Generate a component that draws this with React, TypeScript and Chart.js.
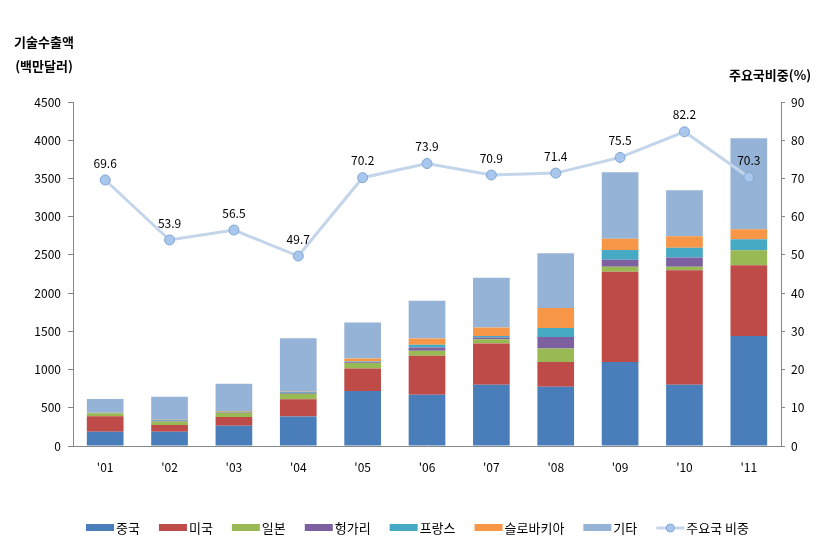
import React, { useEffect, useRef } from "react";
import { Chart, registerables } from "chart.js";

Chart.register(...registerables);

const years = ["'01", "'02", "'03", "'04", "'05", "'06", "'07", "'08", "'09", "'10", "'11"];
const china = [185, 185, 265, 385, 720, 670, 800, 775, 1100, 800, 1440];
const usa = [205, 90, 115, 225, 295, 510, 540, 325, 1180, 1500, 925];
const japan = [40, 45, 55, 75, 70, 65, 55, 175, 65, 45, 195];
const hungary = [3, 10, 8, 10, 10, 45, 25, 150, 90, 120, 5];
const france = [3, 10, 5, 10, 10, 35, 20, 120, 130, 130, 140];
const slovakia = [3, 3, 10, 5, 40, 80, 110, 260, 145, 150, 130];
const others = [175, 300, 355, 700, 470, 495, 650, 715, 870, 600, 1190];
const shareRatio = [69.6, 53.9, 56.5, 49.7, 70.2, 73.9, 70.9, 71.4, 75.5, 82.2, 70.3];

const leftTicksMax = 4500;
const leftStep = 500;
const rightTicksMax = 90;
const rightStep = 10;

const FONT = '"Noto Sans CJK KR", "Noto Sans", sans-serif';

const barSeries = [
  { label: "중국", data: china, color: "#4A7EBB" },
  { label: "미국", data: usa, color: "#BE4B48" },
  { label: "일본", data: japan, color: "#98B954" },
  { label: "헝가리", data: hungary, color: "#7D60A0" },
  { label: "프랑스", data: france, color: "#46AAC5" },
  { label: "슬로바키아", data: slovakia, color: "#F79646" },
  { label: "기타", data: others, color: "#95B3D7" },
];
const lineLabel = "주요국 비중";
const lineColor = "#C3D5EB";
const markerFill = "#A9C6EC";
const markerBorder = "#7FA6D6";

const extrasPlugin = {
  id: "extras",
  afterDatasetsDraw(chart: any) {
    const ctx = chart.ctx;
    const lineIdx = chart.data.datasets.length - 1;
    const meta = chart.getDatasetMeta(lineIdx);
    ctx.save();
    ctx.fillStyle = "#000";
    ctx.font = `12px ${FONT}`;
    ctx.textAlign = "center";
    ctx.textBaseline = "middle";
    meta.data.forEach((pt: any, i: number) => {
      ctx.fillText(shareRatio[i].toFixed(1), pt.x, pt.y - 17);
    });
    ctx.restore();
  },
  afterDraw(chart: any) {
    const ctx = chart.ctx;
    ctx.save();
    ctx.fillStyle = "#000";
    ctx.font = `bold 13px ${FONT}`;
    ctx.textBaseline = "middle";
    ctx.textAlign = "center";
    ctx.fillText("기술수출액", 44, 42);
    ctx.fillText("(백만달러)", 44, 66);
    ctx.fillText("주요국비중(%)", 770, 75);

    ctx.font = `13px ${FONT}`;
    const boxW = 28;
    const gapText = 2;
    const gapItem = 19;
    const items = [...barSeries.map((s) => ({ label: s.label, color: s.color, line: false })), { label: lineLabel, color: lineColor, line: true }];
    const widths = items.map((it) => boxW + gapText + ctx.measureText(it.label).width);
    const total = widths.reduce((a, b) => a + b, 0) + gapItem * (items.length - 1);
    let x = (chart.width - total) / 2;
    const y = 528;
    items.forEach((it, i) => {
      if (!it.line) {
        ctx.fillStyle = it.color;
        ctx.fillRect(x, y - 4, boxW, 7);
      } else {
        ctx.strokeStyle = it.color;
        ctx.lineWidth = 3;
        ctx.beginPath();
        ctx.moveTo(x, y);
        ctx.lineTo(x + boxW, y);
        ctx.stroke();
        ctx.beginPath();
        ctx.arc(x + boxW / 2, y, 4, 0, Math.PI * 2);
        ctx.fillStyle = markerFill;
        ctx.fill();
        ctx.lineWidth = 1;
        ctx.strokeStyle = markerBorder;
        ctx.stroke();
      }
      ctx.fillStyle = "#000";
      ctx.textAlign = "left";
      ctx.textBaseline = "middle";
      ctx.fillText(it.label, x + boxW + gapText, y);
      x += widths[i] + gapItem;
    });
    ctx.restore();
  },
};

export default function App() {
  const ref = useRef<HTMLCanvasElement>(null);
  useEffect(() => {
    document.body.style.margin = "0";
    const canvas = ref.current!;
    const datasets: any[] = barSeries.map((s) => ({
      type: "bar",
      label: s.label,
      data: s.data,
      backgroundColor: s.color,
      borderWidth: 0,
      yAxisID: "y",
      stack: "s",
      order: 1,
      barPercentage: 0.57,
      categoryPercentage: 1,
    }));
    datasets.push({
      type: "line",
      label: lineLabel,
      data: shareRatio,
      borderColor: lineColor,
      borderWidth: 3,
      backgroundColor: markerFill,
      pointBackgroundColor: markerFill,
      pointBorderColor: markerBorder,
      pointBorderWidth: 1,
      pointRadius: 5,
      yAxisID: "y1",
      order: 0,
      tension: 0,
    });
    const chart = new Chart(canvas, {
      type: "bar",
      data: { labels: years, datasets },
      options: {
        responsive: false,
        animation: false,
        devicePixelRatio: 1,
        layout: { padding: { left: 0, right: 0, top: 102, bottom: 62 } },
        plugins: { legend: { display: false }, tooltip: { enabled: false }, title: { display: false } },
        scales: {
          x: {
            stacked: true,
            grid: { display: false, drawTicks: false },
            border: { display: true, color: "#868686", width: 1 },
            ticks: { color: "#000", font: { family: FONT, size: 12 }, padding: 14 },
            afterFit: (s: any) => { s.height = 40; },
          },
          y: {
            stacked: true,
            position: "left",
            min: 0,
            max: leftTicksMax,
            ticks: { stepSize: leftStep, color: "#000", font: { family: FONT, size: 12 }, padding: 7, callback: (v: any) => String(v) },
            grid: { drawOnChartArea: false, drawTicks: true, tickLength: 5, color: "#868686" },
            border: { display: true, color: "#868686", width: 1 },
            afterFit: (s: any) => { s.width = 73; },
          },
          y1: {
            position: "right",
            min: 0,
            max: rightTicksMax,
            ticks: { stepSize: rightStep, color: "#000", font: { family: FONT, size: 12 }, padding: 6, callback: (v: any) => String(v) },
            grid: { drawOnChartArea: false, drawTicks: true, tickLength: 4, color: "#868686" },
            border: { display: true, color: "#868686", width: 1 },
            afterFit: (s: any) => { s.width = 54; },
          },
        },
      },
      plugins: [extrasPlugin],
    } as any);
    return () => chart.destroy();
  }, []);
  return (
    <div style={{ position: "absolute", left: 0, top: 0, width: 835, height: 548, background: "#fff" }}>
      <canvas ref={ref} width={835} height={548} />
    </div>
  );
}
